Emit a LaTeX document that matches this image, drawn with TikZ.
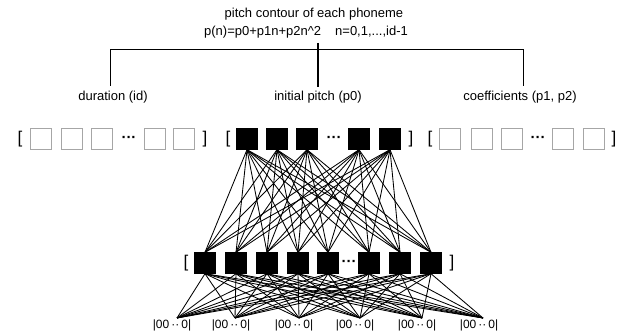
\documentclass[tikz,border=0pt]{standalone}
\usepackage{fontspec}
\setmainfont{Liberation Sans}
\begin{document}
\begin{tikzpicture}[x=1pt,y=-1pt,
  lbl/.style={font=\fontsize{13}{15}\selectfont, inner sep=0pt},
  vec/.style={font=\fontsize{12}{14}\selectfont, inner sep=0pt, anchor=north},
  brk/.style={font=\fontsize{17}{19}\selectfont, inner sep=0pt},
  dotsnode/.style={font=\fontsize{15}{17}\selectfont\bfseries, inner sep=0pt},
  fullbox/.style={draw=black, fill=black, minimum size=21pt, inner sep=0pt},
  emptybox/.style={draw=gray!70, line width=0.7pt, minimum size=21pt, inner sep=0pt},
  edge/.style={line width=0.85pt},
  rule/.style={line width=0.9pt},
]
\useasboundingbox (0,0) rectangle (626,336);

% header: contour model
\node[lbl] (title) at (314,14) {pitch contour of each phoneme};
\node[lbl] (formula) at (306,32) {p(n)=p0+p1n+p2n\textasciicircum 2\hspace{14pt}n=0,1,...,id-1};

% brace-like rule splitting the three parameters
\coordinate (bl) at (110,49);
\coordinate (br) at (523,49);
\coordinate (bmt) at (318,43);
\coordinate (dl) at (110,86);
\coordinate (ml) at (318,87);
\coordinate (rl) at (523,86);
\draw[rule] (dl) -- (bl) -- (br) -- (rl);
\draw[line width=1.8pt] (bmt) -- (ml);

\node[lbl] (dur) at (113,97) {duration (id)};
\node[lbl] (ini) at (318,97) {initial pitch (p0)};
\node[lbl] (coef) at (520,97) {coefficients (p1, p2)};

% top row: duration units (empty)
\node[brk] (lbL) at (20,139) {[};
\foreach \x [count=\i] in {41,72,102,155,184}
  \node[emptybox] (d\i) at (\x,139) {};
\node[dotsnode] (ddots) at (129,139) {\textperiodcentered\textperiodcentered\textperiodcentered};
\node[brk] (lbR) at (205,139) {]};

% top row: initial pitch units (active)
\node[brk] (tbL) at (228,139) {[};
\foreach \x [count=\i] in {247,277,307,359,390}
  \node[fullbox] (t\i) at (\x,139) {};
\node[dotsnode] (tdots) at (334,139) {\textperiodcentered\textperiodcentered\textperiodcentered};
\node[brk] (tbR) at (411,139) {]};

% top row: coefficient units (empty)
\node[brk] (rbL) at (430,139) {[};
\foreach \x [count=\i] in {450,482,512,563,594}
  \node[emptybox] (c\i) at (\x,139) {};
\node[dotsnode] (cdots) at (538,139) {\textperiodcentered\textperiodcentered\textperiodcentered};
\node[brk] (rbR) at (614,139) {]};

% hidden layer
\node[brk] (mbL) at (186,263) {[};
\foreach \x [count=\i] in {205,236,267,298,328,369,400,431}
  \node[fullbox] (m\i) at (\x,263) {};
\node[dotsnode] (mdots) at (349,263) {\textperiodcentered\textperiodcentered\textperiodcentered};
\node[brk] (mbR) at (452,263) {]};

% output vectors
\foreach \x [count=\k] in {177,235,299,360,422,483}
  \coordinate (o\k) at (\x,318);
\foreach \x [count=\k] in {172,231,294,355,417,479}
  \node[vec] (v\k) at (\x,320) {|00\,\textperiodcentered\textperiodcentered\,0|};

% full connections
\foreach \i in {1,...,5}
  \foreach \j in {1,...,8}
    \draw[edge] (t\i.south) -- (m\j.north);
\foreach \j in {1,...,8}
  \foreach \k in {1,...,6}
    \draw[edge] (m\j.south) -- (o\k);
\end{tikzpicture}
\end{document}
